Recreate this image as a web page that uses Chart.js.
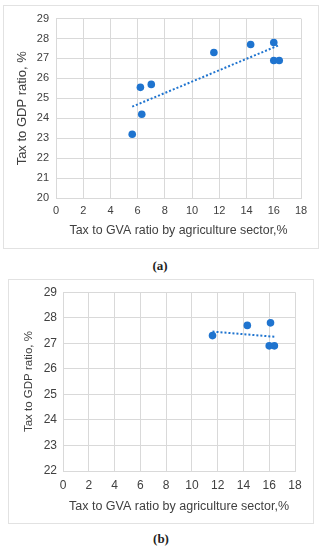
<!DOCTYPE html>
<html>
<head>
<meta charset="utf-8">
<script src="https://cdn.jsdelivr.net/npm/chart.js@4.4.0/dist/chart.umd.min.js"></script>
<style>
  body { margin: 0; background: #fff; width: 324px; height: 550px; position: relative; overflow: hidden; }
  .box { position: absolute; border: 1px solid #e2e2e2; box-sizing: border-box; }
  canvas { position: absolute; }
  .cap { position: absolute; left: 0; width: 320px; text-align: center; line-height: 14px;
         font: bold 13px "Liberation Serif", "Times New Roman", serif; color: #222; }
</style>
</head>
<body>
<div class="box" style="left:3px;top:5px;width:316px;height:244px"></div>
<canvas id="chartA" width="316" height="244" style="left:3px;top:5px"></canvas>
<div class="cap" style="top:258px">(a)</div>

<div class="box" style="left:8px;top:279px;width:306px;height:245px"></div>
<canvas id="chartB" width="306" height="245" style="left:8px;top:279px"></canvas>
<div class="cap" style="top:531px;left:1px">(b)</div>

<script>
// (a) all observations
const gvaA = [16.0, 14.3, 11.6, 16.0, 16.4, 6.2, 7.0, 6.3, 5.6];
const gdpA = [27.8, 27.7, 27.3, 26.9, 26.9, 25.55, 25.7, 24.2, 23.2];
// (b) only the high agriculture tax years
const gvaB = [16.1, 14.3, 11.6, 16.0, 16.4];
const gdpB = [27.8, 27.7, 27.3, 26.9, 26.9];

const xTicks = [0, 2, 4, 6, 8, 10, 12, 14, 16, 18];
const yTicksA = [20, 21, 22, 23, 24, 25, 26, 27, 28, 29];
const yTicksB = [22, 23, 24, 25, 26, 27, 28, 29];

const xTitle = "Tax to GVA ratio by agriculture sector,%";
const yTitle = "Tax to GDP ratio, %";

const blue = "#1f74cf";
const font = "'Liberation Sans', Arial, sans-serif";
const textColor = "#404040";
const gridColor = "#d9d9d9";

// linear trend line (least squares) between min and max x
function trend(xs, ys) {
  const n = xs.length;
  const mx = xs.reduce((a, b) => a + b, 0) / n;
  const my = ys.reduce((a, b) => a + b, 0) / n;
  let sxy = 0, sxx = 0;
  xs.forEach((x, i) => {
    sxy += (x - mx) * (ys[i] - my);
    sxx += (x - mx) * (x - mx);
  });
  const k = sxy / sxx;
  const x0 = Math.min(...xs), x1 = Math.max(...xs);
  return [{ x: x0, y: my + k * (x0 - mx) }, { x: x1, y: my + k * (x1 - mx) }];
}

function makeChart(id, xs, ys, yTicks, o) {
  const ctx = document.getElementById(id).getContext("2d");
  return new Chart(ctx, {
    type: "scatter",
    data: {
      datasets: [
        {
          type: "line",
          data: trend(xs, ys),
          borderColor: blue,
          borderWidth: 2,
          borderDash: [2, 2],
          pointRadius: 0,
          fill: false,
        },
        {
          data: xs.map((x, i) => ({ x: x, y: ys[i] })),
          backgroundColor: blue,
          borderWidth: 0,
          pointRadius: 3.8,
          pointHoverRadius: 3.8,
        },
      ],
    },
    options: {
      responsive: false,
      animation: false,
      devicePixelRatio: 1,
      layout: { padding: o.pad },
      plugins: { legend: { display: false }, tooltip: { enabled: false } },
      scales: {
        x: {
          type: "linear",
          min: xTicks[0],
          max: xTicks[xTicks.length - 1],
          afterBuildTicks: (s) => { s.ticks = xTicks.map((v) => ({ value: v })); },
          afterFit: (s) => { s.height = o.xHeight; },
          grid: { color: gridColor, drawTicks: false },
          border: { color: gridColor },
          ticks: { color: textColor, padding: o.xTickPad, font: { family: font, size: o.tickSize } },
          title: {
            display: true, text: xTitle, color: textColor,
            font: { family: font, size: o.xTitleSize },
            padding: { top: 0, bottom: o.xTitlePad },
          },
        },
        y: {
          type: "linear",
          min: yTicks[0],
          max: yTicks[yTicks.length - 1],
          afterBuildTicks: (s) => { s.ticks = yTicks.map((v) => ({ value: v })); },
          afterFit: (s) => { s.width = o.yWidth; },
          grid: { color: gridColor, drawTicks: false },
          border: { color: gridColor },
          ticks: { color: textColor, padding: o.yTickPad, font: { family: font, size: o.tickSize } },
          title: {
            display: true, text: yTitle, color: textColor,
            font: { family: font, size: o.yTitleSize },
            padding: { top: o.yTitlePad, bottom: 0 },
          },
        },
      },
    },
  });
}

makeChart("chartA", gvaA, gdpA, yTicksA, {
  pad: { left: 8, top: 13, right: 18, bottom: 8 },
  yWidth: 45, xHeight: 43,
  tickSize: 11, xTickPad: 6, yTickPad: 7,
  xTitleSize: 12.4, xTitlePad: 3,
  yTitleSize: 13, yTitlePad: 4,
});

makeChart("chartB", gvaB, gdpB, yTicksB, {
  pad: { left: 8, top: 13, right: 19, bottom: 6 },
  yWidth: 47, xHeight: 47,
  tickSize: 12, xTickPad: 7, yTickPad: 6,
  xTitleSize: 12.5, xTitlePad: 4,
  yTitleSize: 11.5, yTitlePad: 6,
});
</script>
</body>
</html>
